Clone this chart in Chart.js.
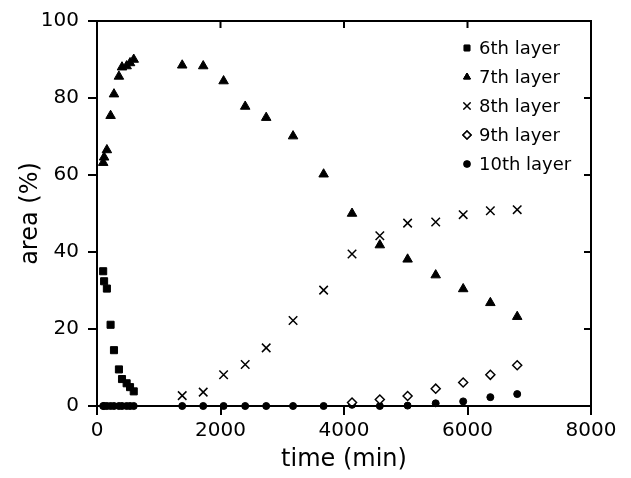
<!DOCTYPE html>
<html>
<head>
<meta charset="utf-8">
<script src="https://cdn.jsdelivr.net/npm/chart.js@4/dist/chart.umd.min.js"></script>
<style>
  html, body { margin: 0; padding: 0; background: #fff; }
  #wrap { width: 631px; height: 478px; }
</style>
</head>
<body>
<div id="wrap"><canvas id="chart" width="631" height="478"></canvas></div>
<script>
// sampling times (min)
var times = [100, 115, 160, 220, 275, 355, 405, 480, 535, 595,
             1380, 1720, 2050, 2400, 2740, 3175, 3670, 4130, 4580, 5030, 5485, 5930, 6370, 6805];

// area (%) per layer, null = no point
var layer6 = [35.0, 32.4, 30.5, 21.1, 14.5, 9.5, 7.0, 5.9, 4.9, 3.8,
              null, null, null, null, null, null, null, null, null, null, null, null, null, null];
var layer7 = [63.2, 64.6, 66.5, 75.4, 81.0, 85.6, 88.0, 88.3, 89.1, 90.0,
              88.5, 88.3, 84.4, 77.8, 74.9, 70.1, 60.2, 50.0, 41.8, 38.1, 34.0, 30.4, 26.8, 23.2];
var layer8 = [null, null, null, null, null, null, null, null, null, null,
              2.7, 3.6, 8.1, 10.8, 15.1, 22.2, 30.1, 39.5, 44.2, 47.5, 47.8, 49.7, 50.7, 51.0];
var layer9 = [null, null, null, null, null, null, null, null, null, null,
              null, null, null, null, null, null, null, 0.9, 1.7, 2.6, 4.5, 6.1, 8.1, 10.6];
var layer10 = [0, 0, 0, 0, 0, 0, 0, 0, 0, 0,
               0, 0, 0, 0, 0, 0, 0, 0.3, 0, 0.1, 0.7, 1.2, 2.3, 3.1];

var layerNames = ["6th layer", "7th layer", "8th layer", "9th layer", "10th layer"];
var xTicks = [0, 2000, 4000, 6000, 8000];
var yTicks = [0, 20, 40, 60, 80, 100];

function toPoints(vals) {
    var pts = [];
    for (var i = 0; i < times.length; i++) {
        if (vals[i] !== null) pts.push({ x: times[i], y: vals[i] });
    }
    return pts;
}

var FONT = "'DejaVu Sans', sans-serif";

// inward ticks on top/right edges + the frame
var framePlugin = {
    id: "frame",
    afterDraw: function(chart) {
        var ctx = chart.ctx, a = chart.chartArea;
        var xs = chart.scales.x, ys = chart.scales.y;
        ctx.save();
        ctx.strokeStyle = "#000";
        ctx.lineWidth = 2;
        ctx.strokeRect(a.left, a.top, a.right - a.left, a.bottom - a.top);
        ctx.beginPath();
        xTicks.forEach(function(v) {
            var px = xs.getPixelForValue(v);
            ctx.moveTo(px, a.top);
            ctx.lineTo(px, a.top + 7);
        });
        yTicks.forEach(function(v) {
            var py = ys.getPixelForValue(v);
            ctx.moveTo(a.right, py);
            ctx.lineTo(a.right - 7, py);
        });
        ctx.stroke();
        ctx.restore();
    }
};

// legend inside the plot, top right
var legendPlugin = {
    id: "innerLegend",
    afterDraw: function(chart) {
        var ctx = chart.ctx, a = chart.chartArea;
        var mx = a.right - 124, tx = a.right - 112, y0 = a.top + 27;
        ctx.save();
        chart.data.datasets.forEach(function(ds, i) {
            var y = y0 + i * 29;
            Chart.helpers.drawPoint(ctx, {
                pointStyle: ds.pointStyle,
                radius: ds.legendRadius,
                borderWidth: ds.pointBorderWidth,
                rotation: 0
            }, mx, y);
            ctx.fillStyle = ds.pointBackgroundColor;
            ctx.strokeStyle = ds.pointBorderColor;
            ctx.lineWidth = ds.pointBorderWidth;
            ctx.fill();
            ctx.stroke();
            ctx.fillStyle = "#000";
            ctx.font = "18px " + FONT;
            ctx.textBaseline = "middle";
            ctx.textAlign = "left";
            ctx.fillText(ds.label, tx, y + 1);
        });
        ctx.restore();
    }
};

var ctx = document.getElementById("chart");

var chart = new Chart(ctx, {
    type: "scatter",
    data: {
        datasets: [
            { label: layerNames[0], data: toPoints(layer6), pointStyle: "rect", pointRadius: 5, legendRadius: 4,
              pointBackgroundColor: "#000", pointBorderColor: "#000", pointBorderWidth: 1 },
            { label: layerNames[1], data: toPoints(layer7), pointStyle: "triangle", pointRadius: 5.5, legendRadius: 4,
              pointBackgroundColor: "#000", pointBorderColor: "#000", pointBorderWidth: 1 },
            { label: layerNames[2], data: toPoints(layer8), pointStyle: "crossRot", pointRadius: 6, legendRadius: 5,
              pointBackgroundColor: "#000", pointBorderColor: "#000", pointBorderWidth: 1.5 },
            { label: layerNames[3], data: toPoints(layer9), pointStyle: "rectRot", pointRadius: 4.5, legendRadius: 4,
              pointBackgroundColor: "#fff", pointBorderColor: "#000", pointBorderWidth: 1.5 },
            { label: layerNames[4], data: toPoints(layer10), pointStyle: "circle", pointRadius: 3.5, legendRadius: 3,
              pointBackgroundColor: "#000", pointBorderColor: "#000", pointBorderWidth: 1 }
        ]
    },
    options: {
        responsive: false,
        animation: false,
        clip: false,
        layout: { padding: { left: 16, right: 40, top: 16, bottom: 4 } },
        plugins: {
            legend: { display: false },
            tooltip: { enabled: false }
        },
        scales: {
            x: {
                type: "linear",
                min: 0,
                max: 8000,
                afterBuildTicks: function(s) { s.ticks = xTicks.map(function(v) { return { value: v }; }); },
                afterFit: function(s) { s.height = 68; },
                ticks: { color: "#000", font: { family: FONT, size: 20 }, padding: 4, maxRotation: 0,
                         callback: function(v) { return String(v); } },
                grid: { drawOnChartArea: false, drawTicks: true, tickLength: 9, color: "#000", lineWidth: 2 },
                border: { color: "#000", width: 2 },
                title: { display: true, text: "time (min)", color: "#000", font: { family: FONT, size: 24 }, padding: { top: 0, bottom: 0 } }
            },
            y: {
                type: "linear",
                min: 0,
                max: 100,
                afterBuildTicks: function(s) { s.ticks = yTicks.map(function(v) { return { value: v }; }); },
                afterFit: function(s) { s.width = 81; },
                ticks: { color: "#000", font: { family: FONT, size: 20 }, padding: 9,
                         callback: function(v) { return String(v); } },
                grid: { drawOnChartArea: false, drawTicks: true, tickLength: 9, color: "#000", lineWidth: 2 },
                border: { color: "#000", width: 2 },
                title: { display: true, text: "area (%)", color: "#000", font: { family: FONT, size: 24 }, padding: { top: 0, bottom: 0 } }
            }
        }
    },
    plugins: [framePlugin, legendPlugin]
});
</script>
</body>
</html>
